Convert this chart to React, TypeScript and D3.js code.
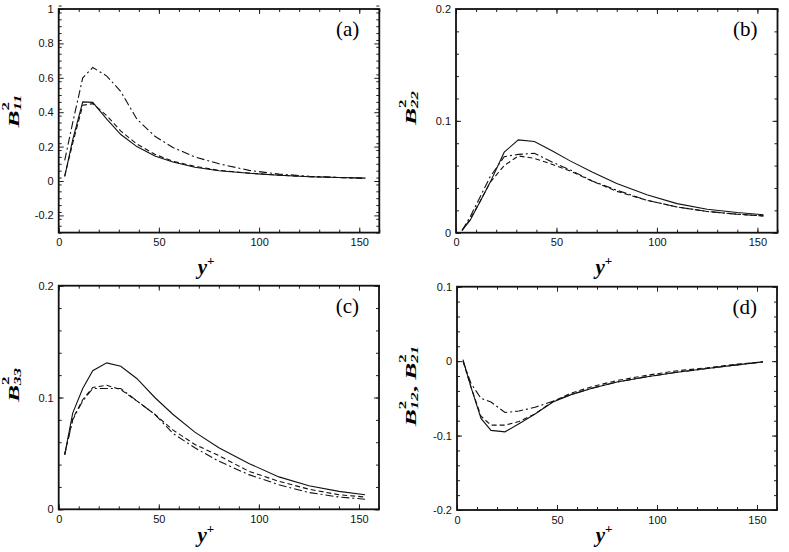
import { useEffect, useRef } from "react";
import * as d3 from "d3";

// y+ stations shared by every curve
const yPlus = [3, 7, 12, 17, 24, 31, 39, 48, 57, 68, 80, 95, 110, 125, 140, 153];

// (a) B11^2
const b11Solid = [0.025, 0.24, 0.46, 0.457, 0.36, 0.27, 0.2, 0.145, 0.11, 0.08, 0.06, 0.045, 0.033, 0.025, 0.02, 0.017];
const b11Dashed = [0.03, 0.22, 0.44, 0.45, 0.38, 0.29, 0.215, 0.155, 0.115, 0.085, 0.062, 0.046, 0.034, 0.025, 0.02, 0.017];
const b11DashDot = [0.12, 0.34, 0.6, 0.66, 0.61, 0.52, 0.36, 0.26, 0.195, 0.14, 0.1, 0.062, 0.04, 0.028, 0.02, 0.016];

// (b) B22^2
const b22Solid = [0.002, 0.011, 0.028, 0.045, 0.072, 0.083, 0.0815, 0.073, 0.064, 0.054, 0.044, 0.034, 0.026, 0.021, 0.018, 0.016];
const b22Dashed = [0.002, 0.012, 0.028, 0.045, 0.06, 0.0686, 0.0665, 0.061, 0.055, 0.046, 0.037, 0.029, 0.023, 0.019, 0.0165, 0.015];
const b22DashDot = [0.002, 0.014, 0.032, 0.05, 0.068, 0.07, 0.071, 0.063, 0.056, 0.046, 0.038, 0.029, 0.023, 0.019, 0.0165, 0.015];

// (c) B33^2
const b33Solid = [0.049, 0.086, 0.108, 0.124, 0.131, 0.128, 0.117, 0.1, 0.085, 0.069, 0.055, 0.041, 0.029, 0.021, 0.016, 0.013];
const b33Dashed = [0.049, 0.081, 0.098, 0.109, 0.111, 0.107, 0.097, 0.085, 0.071, 0.058, 0.048, 0.034, 0.025, 0.018, 0.013, 0.011];
const b33DashDot = [0.049, 0.08, 0.097, 0.108, 0.108, 0.108, 0.097, 0.085, 0.068, 0.055, 0.043, 0.031, 0.022, 0.015, 0.011, 0.009];

// (d) B12^2, B21^2
const b12Solid = [0.002, -0.035, -0.077, -0.093, -0.095, -0.084, -0.071, -0.055, -0.045, -0.036, -0.028, -0.021, -0.015, -0.01, -0.005, -0.001];
const b12Dashed = [0, -0.035, -0.074, -0.086, -0.086, -0.081, -0.071, -0.054, -0.043, -0.034, -0.026, -0.019, -0.013, -0.009, -0.004, -0.001];
const b12DashDot = [0, -0.03, -0.05, -0.055, -0.069, -0.067, -0.062, -0.054, -0.045, -0.036, -0.028, -0.021, -0.015, -0.01, -0.005, -0.001];

const xTicks = [0, 50, 100, 150];

type Sub = { sup: string; sub: string };

interface Panel {
  tag: string;
  left: number;
  top: number;
  right: number;
  bottom: number;
  yDomain: [number, number];
  yMajor: number;
  yMinor: number;
  series: number[][];
  yLabel: Sub[];
  yLabelX: number;
  yLabelY: number;
  xLabelY: number;
}

// plain hyphen minus, like the original plot
const fmt = (d: number) => String(+d.toFixed(2));

const panels: Panel[] = [
  {
    tag: "(a)", left: 58.7, top: 9, right: 379.3, bottom: 232.6,
    yDomain: [-0.3, 1], yMajor: 0.2, yMinor: 0.04,
    series: [b11Solid, b11Dashed, b11DashDot],
    yLabel: [{ sup: "2", sub: "11" }], yLabelX: 19, yLabelY: 111, xLabelY: 274,
  },
  {
    tag: "(b)", left: 456, top: 9, right: 777.5, bottom: 232.7,
    yDomain: [0, 0.2], yMajor: 0.1, yMinor: 0.02,
    series: [b22Solid, b22Dashed, b22DashDot],
    yLabel: [{ sup: "2", sub: "22" }], yLabelX: 416, yLabelY: 108, xLabelY: 274,
  },
  {
    tag: "(c)", left: 58.7, top: 285.7, right: 379, bottom: 509.3,
    yDomain: [0, 0.2], yMajor: 0.1, yMinor: 0.02,
    series: [b33Solid, b33Dashed, b33DashDot],
    yLabel: [{ sup: "2", sub: "33" }], yLabelX: 19, yLabelY: 385, xLabelY: 542,
  },
  {
    tag: "(d)", left: 457, top: 286.7, right: 777, bottom: 510,
    yDomain: [-0.2, 0.1], yMajor: 0.1, yMinor: 0.02,
    series: [b12Solid, b12Dashed, b12DashDot],
    yLabel: [{ sup: "2", sub: "12" }, { sup: "2", sub: "21" }], yLabelX: 416, yLabelY: 386, xLabelY: 542,
  },
];

const dashes = [null, "5,3", "8,3,2,3"];

const range = (a: number, b: number, step: number) => {
  const out: number[] = [];
  const n = Math.round((b - a) / step);
  for (let i = 0; i <= n; i++) out.push(+(a + i * step).toFixed(6));
  return out;
};

const serif = "'Liberation Serif', 'Times New Roman', serif";

export default function App() {
  const svgRef = useRef<SVGSVGElement | null>(null);

  useEffect(() => {
    if (!svgRef.current) return;
    const svg = d3.select(svgRef.current);
    svg.selectAll("*").remove();

    panels.forEach((p) => {
      const x = d3.scaleLinear().domain([0, 160]).range([p.left, p.right]);
      const y = d3.scaleLinear().domain(p.yDomain).range([p.bottom, p.top]);
      const g = svg.append("g");

      const first = Math.ceil(p.yDomain[0] / p.yMajor - 1e-9) * p.yMajor;
      const yMaj = range(first, p.yDomain[1], p.yMajor);
      const yMin = range(p.yDomain[0], p.yDomain[1], p.yMinor);
      const xMin = range(0, 160, 10);

      const noDomain = (s: any) => s.select(".domain").remove();

      // bottom / top axes (ticks pointing inward)
      g.append("g")
        .attr("transform", `translate(0,${p.bottom})`)
        .call(d3.axisBottom(x).tickValues(xMin).tickSize(-3).tickFormat(() => ""))
        .call(noDomain);
      g.append("g")
        .attr("transform", `translate(0,${p.bottom})`)
        .call(d3.axisBottom(x).tickValues(xTicks).tickSize(-5).tickPadding(6).tickFormat((d) => `${d}`))
        .call(noDomain);
      g.append("g")
        .attr("transform", `translate(0,${p.top})`)
        .call(d3.axisTop(x).tickValues(xMin).tickSize(-3).tickFormat(() => ""))
        .call(noDomain);
      g.append("g")
        .attr("transform", `translate(0,${p.top})`)
        .call(d3.axisTop(x).tickValues(xTicks).tickSize(-5).tickFormat(() => ""))
        .call(noDomain);

      // left / right axes
      g.append("g")
        .attr("transform", `translate(${p.left},0)`)
        .call(d3.axisLeft(y).tickValues(yMin).tickSize(-3).tickFormat(() => ""))
        .call(noDomain);
      g.append("g")
        .attr("transform", `translate(${p.left},0)`)
        .call(d3.axisLeft(y).tickValues(yMaj).tickSize(-5).tickPadding(5).tickFormat((d) => fmt(+d)))
        .call(noDomain);
      g.append("g")
        .attr("transform", `translate(${p.right},0)`)
        .call(d3.axisRight(y).tickValues(yMin).tickSize(-3).tickFormat(() => ""))
        .call(noDomain);
      g.append("g")
        .attr("transform", `translate(${p.right},0)`)
        .call(d3.axisRight(y).tickValues(yMaj).tickSize(-5).tickFormat(() => ""))
        .call(noDomain);

      g.selectAll(".tick line").attr("stroke", "#222").attr("stroke-width", 1);
      g.selectAll(".tick text")
        .filter(function () { return (this as SVGTextElement).textContent === ""; })
        .remove();
      g.selectAll(".tick text")
        .attr("fill", "#111")
        .style("font-family", "'Liberation Sans', Arial, sans-serif")
        .style("font-size", "11px");

      // curves
      const line = d3
        .line<number>()
        .x((_, i) => x(yPlus[i]))
        .y((d) => y(d));
      p.series.forEach((s, i) => {
        g.append("path")
          .datum(s)
          .attr("fill", "none")
          .attr("stroke", "#111")
          .attr("stroke-width", 1.1)
          .attr("stroke-dasharray", dashes[i])
          .attr("d", line);
      });

      // frame
      g.append("rect")
        .attr("x", p.left)
        .attr("y", p.top)
        .attr("width", p.right - p.left)
        .attr("height", p.bottom - p.top)
        .attr("fill", "none")
        .attr("stroke", "#111")
        .attr("stroke-width", 1.8);

      // panel tag
      g.append("text")
        .attr("x", p.right - 20)
        .attr("y", p.top + 27)
        .attr("text-anchor", "end")
        .style("font-family", serif)
        .style("font-size", "21px")
        .text(p.tag);

      // x label y+
      const xl = g
        .append("text")
        .attr("x", (p.left + p.right) / 2 - 13)
        .attr("y", p.xLabelY)
        .attr("text-anchor", "middle")
        .style("font-family", serif)
        .style("font-weight", "bold")
        .style("font-style", "italic")
        .style("font-size", "21px");
      xl.append("tspan").text("y");
      xl.append("tspan").attr("dy", -9).style("font-size", "13px").style("font-style", "normal").text("+");

      // y label (stretched along its length, as in the original)
      const yl = g
        .append("text")
        .attr("transform", `translate(${p.yLabelX},${p.yLabelY}) rotate(-90) scale(1.7,1)`)
        .attr("text-anchor", "middle")
        .style("font-family", serif)
        .style("font-weight", "bold")
        .style("font-style", "italic")
        .style("font-size", "15px");
      p.yLabel.forEach((l, i) => {
        if (i > 0) yl.append("tspan").attr("dy", -2).style("font-style", "normal").text(", ");
        yl.append("tspan").text("B");
        yl.append("tspan").attr("dy", -10).style("font-size", "10px").style("font-style", "normal").text(l.sup);
        yl.append("tspan").attr("dx", -5).attr("dy", 12).style("font-size", "10px").text(l.sub);
      });
    });
  }, []);

  return (
    <svg
      ref={svgRef}
      width={789}
      height={552}
      style={{ position: "absolute", left: 0, top: 0, background: "#fff" }}
    />
  );
}
